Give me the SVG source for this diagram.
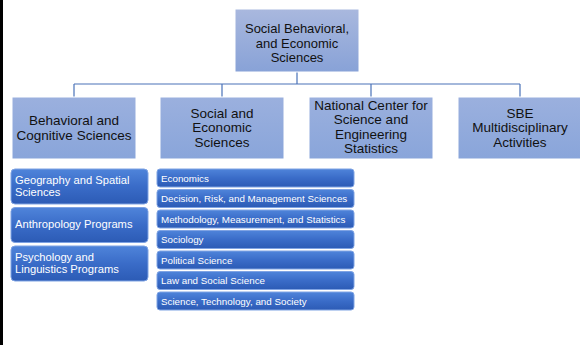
<svg xmlns="http://www.w3.org/2000/svg" width="580" height="345" viewBox="0 0 580 345">
<defs>
<linearGradient id="gTop" x1="0" y1="0" x2="0" y2="1"><stop offset="0" stop-color="#a9b8de"/><stop offset="1" stop-color="#88a2d7"/></linearGradient>
<linearGradient id="gMid" x1="0" y1="0" x2="0" y2="1"><stop offset="0" stop-color="#9bb0de"/><stop offset="1" stop-color="#89a5da"/></linearGradient>
<linearGradient id="gDark" x1="0" y1="0" x2="0" y2="1"><stop offset="0" stop-color="#4f84da"/><stop offset="0.5" stop-color="#3a6cc8"/><stop offset="1" stop-color="#2c5bb5"/></linearGradient>
</defs>
<style>
.top{fill:url(#gTop);stroke:#ffffff;stroke-width:1}
.mid{fill:url(#gMid);stroke:#ffffff;stroke-width:1}
.dk{fill:url(#gDark);stroke:#7fa3e3;stroke-width:1}
.t{font-family:"Liberation Sans",Arial,sans-serif;fill:#111111;text-anchor:middle}
.tb{font-size:13px}
.tm{font-size:13.5px}
.w1{font-family:"Liberation Sans",Arial,sans-serif;fill:#ffffff;font-size:11.2px}
.w2{font-family:"Liberation Sans",Arial,sans-serif;fill:#ffffff;font-size:9.8px}
.c{fill:none;stroke:#4a72b8;stroke-width:1.2}
</style>
<rect x="0" y="0" width="580" height="345" fill="#ffffff"/>
<rect x="0" y="0" width="3" height="345" fill="#000000"/>
<g id="connectors">
<path class="c" d="M297 72V84M74 84H520M74 84V97M222 84V97M371 84V97M520 84V97"/>
</g>
<g id="sbe">
<rect class="top" x="235" y="9" width="124" height="63"/>
<text class="t tb" x="297" y="33">Social Behavioral,</text>
<text class="t tb" x="297" y="47.5">and Economic</text>
<text class="t tb" x="297" y="62">Sciences</text>
</g>
<g id="bcs">
<rect class="mid" x="12" y="97" width="124" height="62"/>
<text class="t tm" x="74" y="125">Behavioral and</text>
<text class="t tm" x="74" y="139.5">Cognitive Sciences</text>
</g>
<g id="ses">
<rect class="mid" x="160" y="97" width="124" height="62"/>
<text class="t tm" x="222" y="117.5">Social and</text>
<text class="t tm" x="222" y="132">Economic</text>
<text class="t tm" x="222" y="146.5">Sciences</text>
</g>
<g id="ncses">
<rect class="mid" x="309" y="97" width="124" height="62"/>
<text class="t tm" x="371" y="109.5">National Center for</text>
<text class="t tm" x="371" y="124">Science and</text>
<text class="t tm" x="371" y="138.5">Engineering</text>
<text class="t tm" x="371" y="153">Statistics</text>
</g>
<g id="sma">
<rect class="mid" x="458" y="97" width="124" height="62"/>
<text class="t tm" x="520" y="117.5">SBE</text>
<text class="t tm" x="520" y="132">Multidisciplinary</text>
<text class="t tm" x="520" y="146.5">Activities</text>
</g>
<g id="geo">
<rect class="dk" x="11" y="169" width="137" height="35" rx="4"/>
<text class="w1" x="15" y="184">Geography and Spatial</text>
<text class="w1" x="15" y="196">Sciences</text>
</g>
<g id="anth">
<rect class="dk" x="11" y="207.5" width="137" height="35" rx="4"/>
<text class="w1" x="15" y="228">Anthropology Programs</text>
</g>
<g id="psy">
<rect class="dk" x="11" y="246" width="137" height="35" rx="4"/>
<text class="w1" x="15" y="261">Psychology and</text>
<text class="w1" x="15" y="273">Linguistics Programs</text>
</g>
<g id="econ">
<rect class="dk" x="157" y="169" width="197" height="18" rx="3"/>
<text class="w2" x="161" y="181.5">Economics</text>
</g>
<g id="drms">
<rect class="dk" x="157" y="189.5" width="197" height="18" rx="3"/>
<text class="w2" x="161" y="202">Decision, Risk, and Management Sciences</text>
</g>
<g id="mms">
<rect class="dk" x="157" y="210" width="197" height="18" rx="3"/>
<text class="w2" x="161" y="222.5">Methodology, Measurement, and Statistics</text>
</g>
<g id="soc">
<rect class="dk" x="157" y="230.5" width="197" height="18" rx="3"/>
<text class="w2" x="161" y="243">Sociology</text>
</g>
<g id="pol">
<rect class="dk" x="157" y="251" width="197" height="18" rx="3"/>
<text class="w2" x="161" y="263.5">Political Science</text>
</g>
<g id="law">
<rect class="dk" x="157" y="271.5" width="197" height="18" rx="3"/>
<text class="w2" x="161" y="284">Law and Social Science</text>
</g>
<g id="sts">
<rect class="dk" x="157" y="292" width="197" height="18" rx="3"/>
<text class="w2" x="161" y="304.5">Science, Technology, and Society</text>
</g>
</svg>
